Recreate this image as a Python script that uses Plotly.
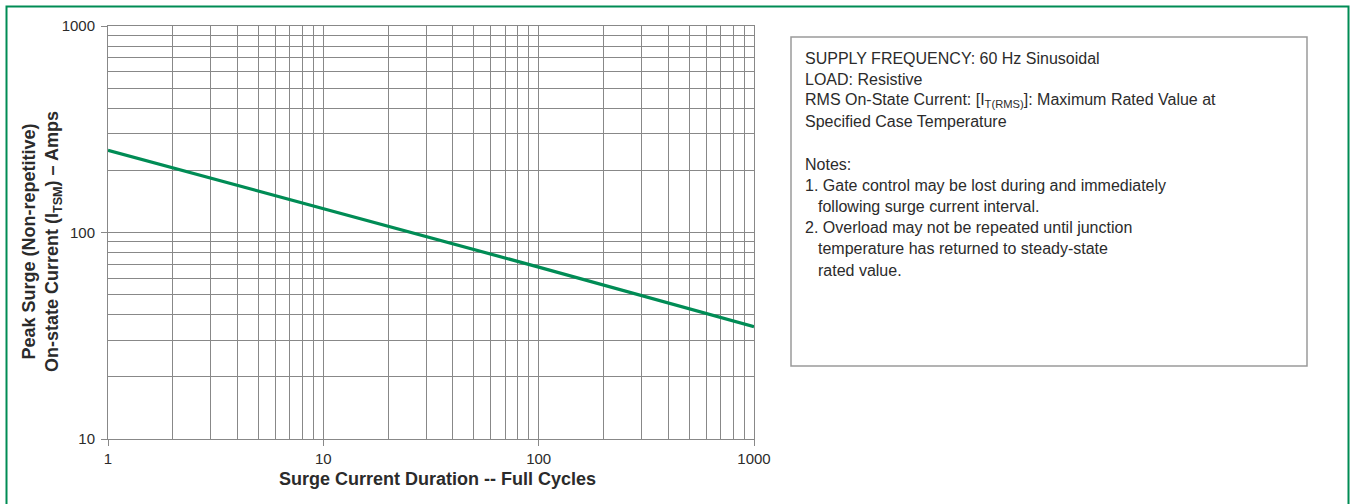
import plotly.graph_objects as go

# Surge rating curve (log-log straight line)
CYCLES = [1, 10, 100, 1000]
PEAK_AMPS = [250, 130, 68, 35]

X_TICKS = [1, 10, 100, 1000]
Y_TICKS = [10, 100, 1000]
X_MINOR = [2, 3, 4, 5, 6, 7, 8, 9, 20, 30, 40, 50, 60, 70, 80, 90,
           200, 300, 400, 500, 600, 700, 800, 900]
Y_MINOR = [20, 30, 40, 50, 60, 70, 80, 90, 200, 300, 400, 500, 600, 700, 800, 900]

X_TITLE = "Surge Current Duration -- Full Cycles"
Y_TITLE = "Peak Surge (Non-repetitive)<br>On-state Current (I<sub>TSM</sub>) – Amps"

NOTE_LINES = [
    "SUPPLY FREQUENCY: 60 Hz Sinusoidal",
    "LOAD: Resistive",
    "RMS On-State Current: [I<sub>T(RMS)</sub>]: Maximum Rated Value at",
    "Specified Case Temperature",
    "",
    "Notes:",
    "1. Gate control may be lost during and immediately",
    "  following surge current interval.",
    "2. Overload may not be repeated until junction",
    "  temperature has returned to steady-state",
    "  rated value.",
]

GREEN = "#008c55"
GRID = "#888888"
TEXT = "#2b2b2b"
FONT = "Liberation Sans, Arial, sans-serif"

W, H = 1353, 504
L, R, T, B = 108, 754, 26, 439  # plot area in pixels


def px(x):
    return (x - L) / (R - L)


def py(y):
    return (B - y) / (B - T)


fig = go.Figure(go.Scatter(
    x=CYCLES, y=PEAK_AMPS, mode="lines",
    line=dict(color=GREEN, width=3.2),
    hoverinfo="skip",
))

axis_common = dict(
    type="log",
    showgrid=True, gridcolor=GRID, gridwidth=1,
    showline=True, linecolor=GRID, linewidth=1, mirror=True,
    ticks="outside", ticklen=6, tickcolor=GRID, tickwidth=1,
    tickfont=dict(family=FONT, size=15, color=TEXT),
    zeroline=False,
)

fig.update_layout(
    width=W, height=H,
    margin=dict(l=L, r=W - R, t=T, b=H - B, autoexpand=False),
    paper_bgcolor="white", plot_bgcolor="white",
    showlegend=False,
    xaxis=dict(
        **axis_common,
        range=[0, 3],
        tickvals=X_TICKS, ticktext=[str(v) for v in X_TICKS],
        minor=dict(tickvals=X_MINOR, showgrid=True, gridcolor=GRID, gridwidth=1, ticks=""),
    ),
    yaxis=dict(
        **axis_common,
        range=[1, 3],
        tickvals=Y_TICKS, ticktext=[str(v) for v in Y_TICKS],
        ticklabelstandoff=3,
        minor=dict(tickvals=Y_MINOR, showgrid=True, gridcolor=GRID, gridwidth=1, ticks=""),
    ),
)

# axis titles as annotations, placed where the reference has them
fig.add_annotation(
    xref="paper", yref="paper", x=px(437), y=py(479),
    xanchor="center", yanchor="middle",
    text=f"<b>{X_TITLE}</b>", showarrow=False,
    font=dict(family=FONT, size=18, color=TEXT),
)
fig.add_annotation(
    xref="paper", yref="paper", x=px(42), y=py(242),
    xanchor="center", yanchor="middle", textangle=-90,
    text=f"<b>{Y_TITLE}</b>", showarrow=False,
    font=dict(family=FONT, size=18, color=TEXT),
)

# outer green frame (bottom edge runs off the page) and the notes box
fig.add_shape(type="rect", xref="paper", yref="paper",
              x0=px(6.5), x1=px(1348.5), y0=py(520), y1=py(6.5),
              line=dict(color=GREEN, width=2), layer="below")
fig.add_shape(type="rect", xref="paper", yref="paper",
              x0=px(791), x1=px(1307), y0=py(366), y1=py(37),
              line=dict(color="#9a9a9a", width=1.5))

for i, line in enumerate(NOTE_LINES):
    if not line:
        continue
    indent = 13 if line.startswith("  ") else 0
    fig.add_annotation(
        xref="paper", yref="paper",
        x=px(803 + indent), y=py(58 + i * 21.2),
        xanchor="left", yanchor="middle", align="left",
        text=line.strip(), showarrow=False,
        font=dict(family=FONT, size=16, color=TEXT),
    )

fig.write_html("out.html", config={"displayModeBar": False},
               post_script="document.body.style.margin='0';")
